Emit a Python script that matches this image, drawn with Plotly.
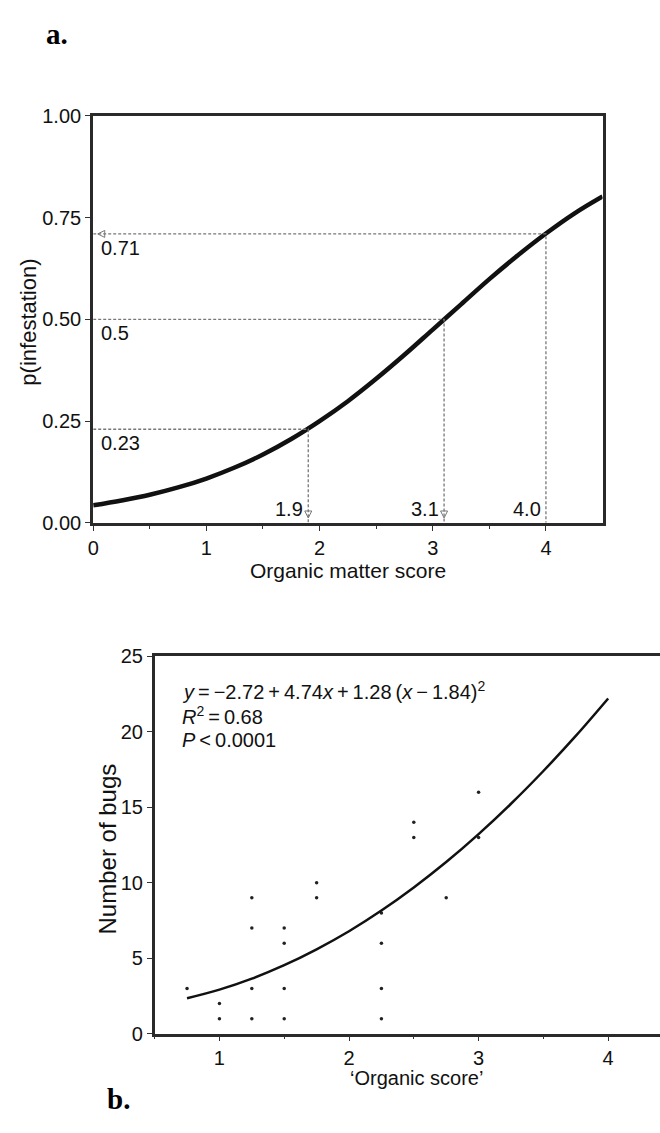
import plotly.graph_objects as go

W, H = 660, 1133

# ---------------- Panel a data ----------------
a_x = [0.0, 0.25, 0.5, 0.75, 1.0, 1.25, 1.5, 1.75, 2.0, 2.25, 2.5, 2.75, 3.0, 3.25, 3.5, 3.75, 4.0, 4.25, 4.5]
a_p = [0.043, 0.055, 0.069, 0.087, 0.109, 0.136, 0.168, 0.206, 0.250, 0.299, 0.354, 0.413, 0.475,
       0.537, 0.599, 0.657, 0.711, 0.760, 0.802]
ref_x = [1.9, 3.1, 4.0]
ref_p = [0.23, 0.5, 0.71]
ref_xlab = ["1.9", "3.1", "4.0"]
ref_plab = ["0.23", "0.5", "0.71"]
a_yticks = [0.0, 0.25, 0.5, 0.75, 1.0]
a_xticks = [0, 1, 2, 3, 4]

# ---------------- Panel b data ----------------
b_pts_x = [0.75, 1.0, 1.0, 1.25, 1.25, 1.25, 1.25, 1.5, 1.5, 1.5, 1.5,
           1.75, 1.75, 2.25, 2.25, 2.25, 2.25, 2.5, 2.5, 2.75, 3.0, 3.0]
b_pts_y = [3, 2, 1, 9, 7, 3, 1, 7, 6, 3, 1,
           10, 9, 8, 6, 3, 1, 14, 13, 9, 16, 13]
b_fit_x = [0.75, 1.0, 1.25, 1.5, 1.75, 2.0, 2.25, 2.5, 2.75, 3.0, 3.25, 3.5, 3.75, 4.0]
b_fit_y = [2.35, 2.92, 3.65, 4.54, 5.59, 6.79, 8.16, 9.69, 11.37, 13.22, 15.23, 17.40, 19.72, 22.2]
b_yticks = [0, 5, 10, 15, 20, 25]
b_xticks = [1, 2, 3, 4]

FONT = "Liberation Sans, Arial, Helvetica, sans-serif"
SERIF = "Liberation Serif, Times New Roman, serif"
FS = 20

def px_x(p):
    return p / W

def px_y(p):
    return 1 - p / H

fig = go.Figure()

# panel a curve
fig.add_trace(go.Scatter(x=a_x, y=a_p, mode="lines",
                         line=dict(color="#111", width=4.5, shape="spline"),
                         xaxis="x", yaxis="y", showlegend=False, hoverinfo="skip"))
# reference dashed lines
for xi, pi in zip(ref_x, ref_p):
    fig.add_trace(go.Scatter(x=[0, xi, xi], y=[pi, pi, 0], mode="lines",
                             line=dict(color="#777", width=1.3, dash="3px,2px"),
                             xaxis="x", yaxis="y", showlegend=False, hoverinfo="skip"))
# arrowheads (open chevrons) at the ends of the reference lines
fig.add_trace(go.Scatter(x=ref_x[:2], y=[0.012, 0.012], mode="markers",
                         marker=dict(symbol="arrow-down-open", size=7, color="#777",
                                     line=dict(width=1, color="#777")),
                         xaxis="x", yaxis="y", showlegend=False, hoverinfo="skip"))
fig.add_trace(go.Scatter(x=[0.04], y=[ref_p[2]], mode="markers",
                         marker=dict(symbol="arrow-left-open", size=7, color="#777",
                                     line=dict(width=1, color="#777")),
                         xaxis="x", yaxis="y", showlegend=False, hoverinfo="skip"))

# panel b
fig.add_trace(go.Scatter(x=b_pts_x, y=b_pts_y, mode="markers",
                         marker=dict(color="#222", size=3.5),
                         xaxis="x2", yaxis="y2", showlegend=False, hoverinfo="skip"))
fig.add_trace(go.Scatter(x=b_fit_x, y=b_fit_y, mode="lines",
                         line=dict(color="#111", width=2.5, shape="spline"),
                         xaxis="x2", yaxis="y2", showlegend=False, hoverinfo="skip"))

ann = []
# panel a value labels
for xi, pi, xl, pl in zip(ref_x, ref_p, ref_xlab, ref_plab):
    ann.append(dict(x=0.05, y=pi, xref="x", yref="y", text=pl, showarrow=False,
                    xanchor="left", yanchor="top", yshift=-1,
                    font=dict(family=FONT, size=FS, color="#111")))
    ann.append(dict(x=xi, y=0, xref="x", yref="y", text=xl, showarrow=False,
                    xanchor="right", yanchor="bottom", xshift=-3, yshift=1,
                    font=dict(family=FONT, size=FS, color="#111")))

# titles / labels
ann.append(dict(x=px_x(38), y=px_y(23), xref="paper", yref="paper", text="<b>a.</b>",
                showarrow=False, xanchor="left", yanchor="middle",
                font=dict(family=SERIF, size=29, color="#000")))
ann.append(dict(x=px_x(100), y=px_y(1110), xref="paper", yref="paper", text="<b>b.</b>",
                showarrow=False, xanchor="left", yanchor="middle",
                font=dict(family=SERIF, size=29, color="#000")))
ann.append(dict(x=px_x(23), y=px_y(317), xref="paper", yref="paper", text="p(infestation)",
                showarrow=False, textangle=-90, xanchor="center", yanchor="middle",
                font=dict(family=FONT, size=22, color="#111")))
ann.append(dict(x=px_x(345), y=px_y(571), xref="paper", yref="paper", text="Organic matter score",
                showarrow=False, xanchor="center", yanchor="middle",
                font=dict(family=FONT, size=21, color="#111")))
ann.append(dict(x=px_x(102), y=px_y(855), xref="paper", yref="paper", text="Number of bugs",
                showarrow=False, textangle=-90, xanchor="center", yanchor="middle",
                font=dict(family=FONT, size=24, color="#111")))
ann.append(dict(x=px_x(414), y=px_y(1088), xref="paper", yref="paper", text="\u2018Organic score\u2019",
                showarrow=False, xanchor="center", yanchor="middle",
                font=dict(family=FONT, size=20, color="#111")))
eq_lines = ["<i>y</i>\u2009=\u2009\u22122.72\u2009+\u20094.74<i>x</i>\u2009+\u20091.28\u2009(<i>x</i>\u2009\u2212\u20091.84)<sup>2</sup>",
            "<i>R</i><sup>2</sup>\u2009=\u20090.68",
            "<i>P</i>\u2009<\u20090.0001"]
for i, t in enumerate(eq_lines):
    ann.append(dict(x=px_x(176), y=px_y(693 + 25 * i), xref="paper", yref="paper", text=t,
                    showarrow=False, xanchor="left", yanchor="middle",
                    font=dict(family=FONT, size=FS, color="#111")))

axis_common = dict(showgrid=False, zeroline=False, ticks="outside", ticklen=5,
                   tickcolor="#333", linecolor="#2a2a2a",
                   tickfont=dict(family=FONT, size=FS, color="#111"))

fig.update_layout(
    width=W, height=H, margin=dict(l=0, r=0, t=0, b=0),
    paper_bgcolor="white", plot_bgcolor="white", showlegend=False,
    xaxis=dict(domain=[px_x(88), px_x(602)], range=[0, 4.5], anchor="y",
               tickvals=a_xticks, linewidth=3, mirror=True,
               minor=dict(tickvals=[0.5, 1.5, 2.5, 3.5], ticklen=3, ticks="outside", tickcolor="#333"),
               **axis_common),
    yaxis=dict(domain=[px_y(522), px_y(107)], range=[0, 1], anchor="x",
               tickvals=a_yticks, tickformat=".2f", linewidth=3, mirror=True,
               **axis_common),
    xaxis2=dict(domain=[px_x(150), 1.0], range=[0.5, 4.4], anchor="y2",
                tickvals=b_xticks, linewidth=2.5, mirror=True,
                minor=dict(tickvals=[0.5, 1.5, 2.5, 3.5], ticklen=3, ticks="outside", tickcolor="#333"),
                **axis_common),
    yaxis2=dict(domain=[px_y(1043), px_y(658)], range=[0, 25], anchor="x2",
                tickvals=b_yticks, linewidth=2.5, mirror=False,
                **axis_common),
    annotations=ann,
)

fig.write_html("out.html", config={"displayModeBar": False},
               post_script="document.body.style.margin='0';document.body.style.padding='0';"
                           "document.body.style.overflow='hidden';")
